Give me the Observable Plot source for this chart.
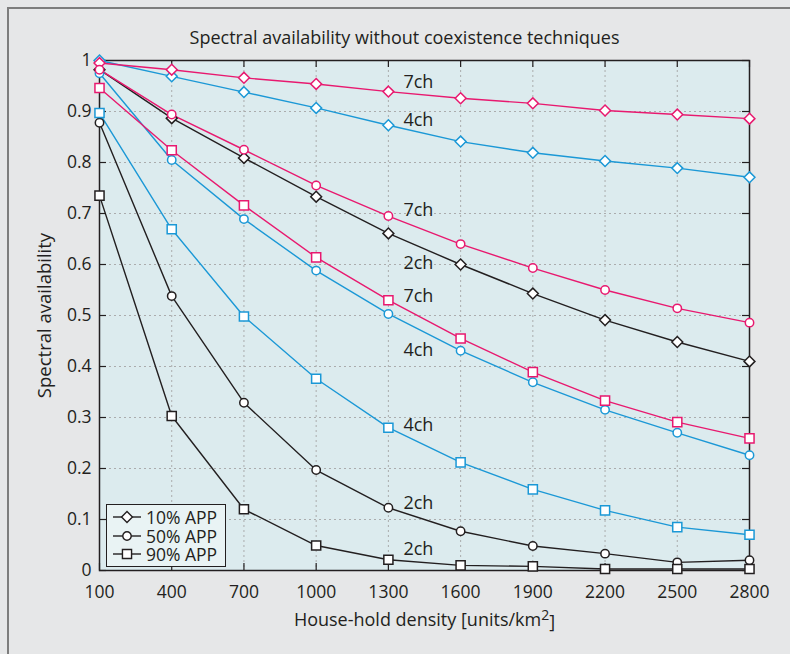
<!DOCTYPE html>
<html>
<head>
<meta charset="utf-8">
<script src="https://cdn.jsdelivr.net/npm/d3@7"></script>
<script src="https://cdn.jsdelivr.net/npm/@observablehq/plot@0.6"></script>
<style>
  html, body { margin: 0; padding: 0; background: #e6e7e8; width: 790px; height: 654px; overflow: hidden; }
  #frame { position: absolute; left: 7px; top: 7px; width: 800px; height: 660px; border-left: 2px solid #7d7d7d; border-top: 2px solid #7d7d7d; }
  #chart { position: absolute; left: 0; top: 0; }
  #legend { position: absolute; left: 106px; top: 504px; width: 118px; height: 61px; background: #e9f3f4; border: 1.5px solid #231f20; font-family: "Open Sans", sans-serif; font-size: 17.5px; color: #231f20; }
  .row { position: absolute; left: 0; height: 18px; display: flex; align-items: center; }
  .row svg { display: block; margin-left: 5px; margin-right: 4px; }
  .row span { display: block; height: 18px; line-height: 18px; overflow: visible; white-space: nowrap; }
</style>
</head>
<body>
<div id="frame"></div>
<div id="chart"></div>
<div id="legend"></div>
<script>
// ---- data ----
const densities = [100, 400, 700, 1000, 1300, 1600, 1900, 2200, 2500, 2800];
const app10_2ch = [0.982, 0.887, 0.809, 0.733, 0.661, 0.600, 0.543, 0.491, 0.448, 0.410];
const app10_4ch = [1.000, 0.969, 0.938, 0.907, 0.873, 0.841, 0.819, 0.803, 0.789, 0.771];
const app10_7ch = [0.995, 0.982, 0.966, 0.954, 0.939, 0.926, 0.916, 0.902, 0.894, 0.886];
const app50_2ch = [0.878, 0.538, 0.329, 0.197, 0.123, 0.077, 0.048, 0.033, 0.016, 0.020];
const app50_4ch = [0.975, 0.805, 0.689, 0.588, 0.503, 0.431, 0.369, 0.315, 0.270, 0.226];
const app50_7ch = [0.982, 0.894, 0.825, 0.755, 0.695, 0.640, 0.593, 0.550, 0.514, 0.486];
const app90_2ch = [0.735, 0.303, 0.120, 0.049, 0.021, 0.010, 0.008, 0.003, 0.003, 0.003];
const app90_4ch = [0.897, 0.669, 0.498, 0.376, 0.280, 0.212, 0.159, 0.118, 0.085, 0.070];
const app90_7ch = [0.946, 0.824, 0.716, 0.614, 0.530, 0.455, 0.389, 0.333, 0.291, 0.259];

const xTicks = [100, 400, 700, 1000, 1300, 1600, 1900, 2200, 2500, 2800];
const yTicks = [0, 0.1, 0.2, 0.3, 0.4, 0.5, 0.6, 0.7, 0.8, 0.9, 1];

const chLabelText = ["7ch", "4ch", "7ch", "2ch", "7ch", "4ch", "4ch", "2ch", "2ch"];
const chLabelY = [0.958, 0.882, 0.706, 0.603, 0.537, 0.431, 0.284, 0.132, 0.041];
const chLabelX = 1300;

const legendLabels = ["10% APP", "50% APP", "90% APP"];
const titleText = "Spectral availability without coexistence techniques";
const yLabelText = "Spectral availability";
const xLabelText = "House-hold density [units/km";

// ---- styles ----
const chColor = { "2ch": "#231f20", "4ch": "#1b98d6", "7ch": "#e8196f" };
const appSymbol = { "10%": "diamond2", "50%": "circle", "90%": "square2" };
const appR = { "10%": 4.9, "50%": 4.2, "90%": 5.8 };

const seriesList = [
  { app: "10%", ch: "2ch", values: app10_2ch },
  { app: "10%", ch: "4ch", values: app10_4ch },
  { app: "10%", ch: "7ch", values: app10_7ch },
  { app: "50%", ch: "2ch", values: app50_2ch },
  { app: "50%", ch: "4ch", values: app50_4ch },
  { app: "50%", ch: "7ch", values: app50_7ch },
  { app: "90%", ch: "2ch", values: app90_2ch },
  { app: "90%", ch: "4ch", values: app90_4ch },
  { app: "90%", ch: "7ch", values: app90_7ch }
];
const rows = seriesList.flatMap(s => s.values.map((v, i) => ({ density: densities[i], value: v, app: s.app, ch: s.ch, key: s.app + s.ch })));
const labels = chLabelText.map((t, i) => ({ text: t, y: chLabelY[i], x: chLabelX }));

const W = 790, H = 654;
const mL = 99, mR = 41, mT = 60, mB = 84;
const innerW = W - mL - mR, innerH = H - mT - mB;
const TL = 7;

const marks = [
  Plot.frame({ fill: "#dcebee" }),
  Plot.gridX(xTicks.slice(1, -1), { stroke: "#a5a5a5", strokeOpacity: 0.9, strokeDasharray: "2,3" }),
  Plot.gridY(yTicks.slice(1, -1), { stroke: "#a5a5a5", strokeOpacity: 0.9, strokeDasharray: "2,3" }),
  Plot.ruleX(xTicks, { x: d => d, insetTop: innerH - TL, stroke: "#231f20", strokeWidth: 1.2 }),
  Plot.ruleX(xTicks, { x: d => d, insetBottom: innerH - TL, stroke: "#231f20", strokeWidth: 1.2 }),
  Plot.ruleY(yTicks, { y: d => d, insetLeft: innerW - TL, stroke: "#231f20", strokeWidth: 1.2 }),
  Plot.ruleY(yTicks, { y: d => d, insetRight: innerW - TL, stroke: "#231f20", strokeWidth: 1.2 }),
  Plot.frame({ stroke: "#231f20", strokeWidth: 1.5 }),
  Plot.axisX({ ticks: xTicks, tickSize: 0, tickPadding: 15, fontSize: 17.5, label: null, tickFormat: d => String(d) }),
  Plot.axisY({ ticks: yTicks, tickSize: 0, tickPadding: 8, fontSize: 17.5, label: null, tickFormat: d => String(+d.toFixed(1)) }),
  Plot.line(rows, { x: "density", y: "value", z: "key", stroke: d => chColor[d.ch], strokeWidth: 1.4 })
];
for (const app of ["10%", "50%", "90%"]) {
  marks.push(Plot.dot(rows.filter(d => d.app === app), {
    x: "density", y: "value", symbol: appSymbol[app], r: appR[app],
    fill: "white", stroke: d => chColor[d.ch], strokeWidth: 1.5
  }));
}
marks.push(
  Plot.text(labels, { x: "x", y: "y", text: "text", textAnchor: "start", dx: 15, fontSize: 18, fill: "#231f20" }),
  Plot.text([titleText], { frameAnchor: "top", lineAnchor: "middle", textAnchor: "middle", dy: -22, dx: -20, fontSize: 18, fill: "#231f20" }),
  Plot.text([yLabelText], { frameAnchor: "left", rotate: -90, dx: -54, textAnchor: "middle", lineAnchor: "middle", fontSize: 18.5, fill: "#231f20" }),
  Plot.text([xLabelText], { frameAnchor: "bottom", lineAnchor: "middle", textAnchor: "middle", dy: 50, fontSize: 18, fill: "#231f20", className: "xlab" })
);

const chart = Plot.plot({
  width: W, height: H,
  marginLeft: mL, marginRight: mR, marginTop: mT, marginBottom: mB,
  x: { type: "linear", domain: [100, 2800] },
  y: { domain: [0, 1] },
  color: { type: "identity" },
  style: { fontFamily: "Open Sans, sans-serif", fontSize: "17px", color: "#231f20", background: "transparent", overflow: "visible" },
  marks
});
document.getElementById("chart").appendChild(chart);

// superscript 2 on the x-axis label
const xt = d3.select(chart).select(".xlab text");
if (!xt.empty()) {
  const base = xt.text();
  xt.text(null);
  xt.append("tspan").text(base);
  xt.append("tspan").attr("dy", "-0.45em").attr("font-size", "14px").text("2");
  xt.append("tspan").attr("dy", "0.45em").text("]");
}

// ---- legend ----
const legend = document.getElementById("legend");
const legendApps = ["10%", "50%", "90%"];
const symType = { "10%": d3.symbolDiamond2, "50%": d3.symbolCircle, "90%": d3.symbolSquare2 };
legendApps.forEach((app, i) => {
  const row = document.createElement("div");
  row.className = "row";
  row.style.top = (3 + i * 18.5) + "px";
  const size = Math.PI * appR[app] * appR[app];
  const path = d3.symbol().type(symType[app]).size(size)();
  row.innerHTML = `<svg width="30" height="18" viewBox="0 0 30 18">
    <line x1="1" x2="29" y1="9" y2="9" stroke="#231f20" stroke-width="1.4"/>
    <path d="${path}" transform="translate(15,9)" fill="white" stroke="#231f20" stroke-width="1.4"/>
  </svg><span>${legendLabels[i]}</span>`;
  legend.appendChild(row);
});
</script>
</body>
</html>
